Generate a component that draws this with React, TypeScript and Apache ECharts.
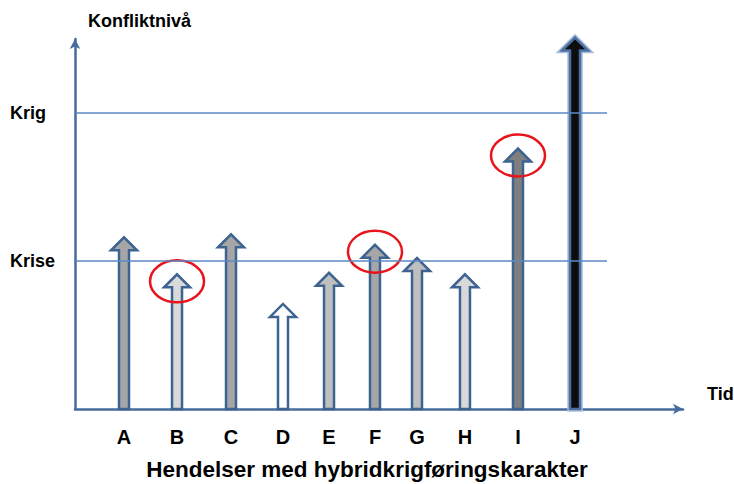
import React, { useEffect, useRef } from "react";
import * as echarts from "echarts";

const events = ["A", "B", "C", "D", "E", "F", "G", "H", "I", "J"];
const eventTimes = [8.06, 16.78, 25.66, 34.21, 41.78, 49.34, 56.25, 64.14, 72.86, 82.24];
const conflictLevels = [1.16, 0.91, 1.18, 0.71, 0.92, 1.11, 1.02, 0.91, 1.76, 2.51];
const flaggedEvents = ["B", "F", "I"];
const levelNames: Record<number, string> = { 1: "Krise", 2: "Krig" };
const levelLines = [1, 2];

const arrowFills = ["#a6a6a6", "#d9d9d9", "#a6a6a6", "#ffffff", "#bfbfbf", "#a6a6a6", "#bfbfbf", "#d9d9d9", "#7f7f7f", "#0d0d0d"];

const FONT = "'Liberation Sans', Arial, sans-serif";
const AXIS_COLOR = "#466b9c";
const ARROW_STROKE = "#3d6391";

export default function App() {
  const ref = useRef<HTMLDivElement>(null);
  useEffect(() => {
    document.body.style.margin = "0";
    if (!ref.current) return;
    const chart = echarts.init(ref.current, null, { renderer: "svg" });
    const data = events.map((e, i) => [eventTimes[i], conflictLevels[i], i]);
    chart.setOption({
      animation: false,
      grid: { left: 75, right: 51, top: 39, bottom: 75 },
      xAxis: {
        type: "value",
        min: 0,
        max: 100,
        axisLine: { show: true, lineStyle: { color: AXIS_COLOR, width: 2.5 }, symbol: ["none", "arrow"], symbolSize: [8, 10] },
        axisTick: { show: false },
        axisLabel: { show: false },
        splitLine: { show: false },
      },
      yAxis: {
        type: "value",
        min: 0,
        max: 2.5,
        interval: 1,
        axisLine: { show: true, lineStyle: { color: AXIS_COLOR, width: 2.5 }, symbol: ["none", "arrow"], symbolSize: [8, 10] },
        axisTick: { show: false },
        splitLine: { show: false },
        axisLabel: {
          formatter: (v: number) => levelNames[v] || "",
          align: "left",
          margin: 65,
          color: "#000",
          fontWeight: "bold",
          fontSize: 18,
          fontFamily: FONT,
        },
      },
      graphic: [
        { type: "text", left: 88, top: 12, style: { text: "Konfliktnivå", fontSize: 18, fontWeight: "bold", fontFamily: FONT, fill: "#000" } },
        { type: "text", left: 707, top: 385, style: { text: "Tid", fontSize: 18, fontWeight: "bold", fontFamily: FONT, fill: "#000" } },
        { type: "text", left: "center", top: 458, style: { text: "Hendelser med hybridkrigføringskarakter", fontSize: 22.5, fontWeight: "bold", fontFamily: FONT, fill: "#000" } },
      ],
      series: [
        {
          type: "custom",
          data,
          clip: false,
          renderItem: (params: any, api: any) => {
            const idx = api.value(2);
            const base = api.coord([api.value(0), 0]);
            const top = api.coord([api.value(0), api.value(1)]);
            const x = base[0];
            const y0 = base[1];
            const tip = top[1];
            const sw = 5;
            const hw = 13;
            const hh = 13;
            const pts = [
              [x - sw, y0],
              [x - sw, tip + hh],
              [x - hw, tip + hh],
              [x, tip],
              [x + hw, tip + hh],
              [x + sw, tip + hh],
              [x + sw, y0],
            ];
            const children: any[] = [];
            const isLast = idx === events.length - 1;
            if (isLast) {
              children.push({ type: "polygon", shape: { points: pts }, style: { fill: "none", stroke: "#a9bedb", lineWidth: 5.5 } });
            }
            children.push({
              type: "polygon",
              shape: { points: pts },
              style: { fill: arrowFills[idx], stroke: isLast ? "#4a6fa0" : ARROW_STROKE, lineWidth: 2.5, lineJoin: "miter" },
            });
            if (flaggedEvents.indexOf(events[idx]) >= 0) {
              children.push({ type: "ellipse", shape: { cx: x, cy: tip + 7, rx: 27, ry: 21 }, style: { fill: "none", stroke: "#e8141b", lineWidth: 2.5 } });
            }
            children.push({
              type: "text",
              style: { text: events[idx], x, y: y0 + 28, align: "center", verticalAlign: "middle", fontSize: 20, fontWeight: "bold", fontFamily: FONT, fill: "#000" },
            });
            return { type: "group", children };
          },
          markLine: {
            silent: true,
            symbol: "none",
            label: { show: false },
            lineStyle: { color: "#5b88c4", width: 1.5, type: "solid" },
            data: levelLines.map((l) => [{ coord: [0.3, l] }, { coord: [87.5, l] }]),
          },
          z: 3,
        },
      ],
    });
    return () => chart.dispose();
  }, []);
  return <div ref={ref} style={{ width: 734, height: 484 }} />;
}
